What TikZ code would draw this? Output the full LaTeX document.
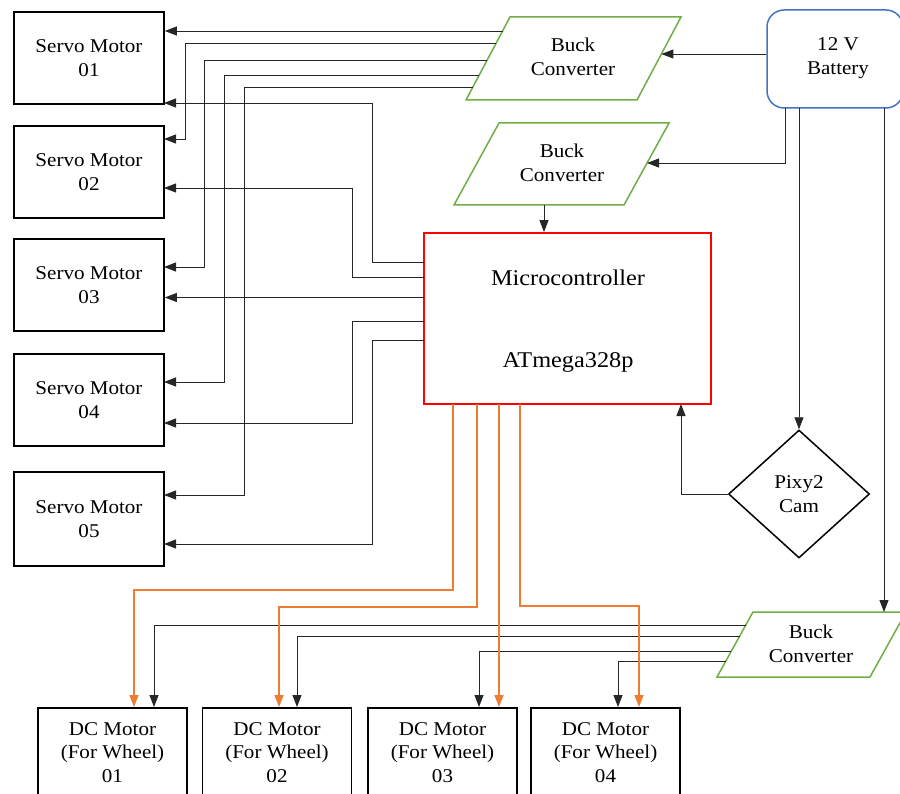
\documentclass[tikz,border=0pt]{standalone}
\usepackage{fontspec}
\setmainfont{Liberation Serif}[FakeStretch=1.08]
\usetikzlibrary{arrows.meta,shapes.geometric}
\definecolor{bkgreen}{RGB}{112,173,71}
\definecolor{batblue}{RGB}{68,114,196}
\definecolor{wireorange}{RGB}{237,125,49}
\begin{document}
\begin{tikzpicture}[x=1pt,y=-1pt,
  lbl/.style={font=\fontsize{19.5}{23.5}\selectfont, align=center, inner sep=0pt},
  box/.style={draw, line width=1.6pt, minimum width=150pt, minimum height=92pt, inner sep=0pt, lbl},
  dcbox/.style={draw, line width=1.6pt, minimum width=149pt, minimum height=120pt, inner sep=0pt, anchor=north},
  conn/.style={draw=black!85, line width=0.9pt, -{Triangle[length=12pt,width=9pt]}},
  owire/.style={draw=wireorange, line width=1.4pt, -{Triangle[length=12pt,width=9pt]}},
  bk/.style={draw=bkgreen, line width=1.5pt, line join=miter}]
\useasboundingbox (0,0) rectangle (900,794);
\clip (0,0) rectangle (900,794);

% servo motors
\node[box] (s1) at (89,58) {Servo Motor\\01};
\node[box] (s2) at (89,172) {Servo Motor\\02};
\node[box] (s3) at (89,285) {Servo Motor\\03};
\node[box] (s4) at (89,400) {Servo Motor\\04};
\node[box, minimum height=94pt] (s5) at (89,519) {Servo Motor\\05};

% microcontroller
\node[draw=red, line width=1.8pt, minimum width=287pt, minimum height=171pt, inner sep=0pt] (mc) at (567.5,318.5) {};
\node[font=\fontsize{22.5}{26}\selectfont, inner sep=0pt] (mct) at (568,278) {Microcontroller};
\node[font=\fontsize{22.5}{26}\selectfont, inner sep=0pt] (mcp) at (568,362) {ATmega328p};

% battery
\node[draw=batblue, line width=1.5pt, rounded corners=17pt, minimum width=136pt, minimum height=98pt, inner sep=0pt] (bat) at (835,59) {};
\node[lbl] (batt) at (838,58) {12 V\\Battery};

% buck converters
\coordinate (b1bl) at (466,100); \coordinate (b1tl) at (510,17);
\coordinate (b1tr) at (681,17);  \coordinate (b1br) at (637,100);
\draw[bk] (b1bl) -- (b1tl) -- (b1tr) -- (b1br) -- cycle;
\node[lbl] (b1) at (573,57) {Buck\\Converter};

\coordinate (b2bl) at (454,205); \coordinate (b2tl) at (499,123);
\coordinate (b2tr) at (669,123); \coordinate (b2br) at (624,205);
\draw[bk] (b2bl) -- (b2tl) -- (b2tr) -- (b2br) -- cycle;
\node[lbl] (b2) at (562,163) {Buck\\Converter};

\coordinate (b3bl) at (717,677); \coordinate (b3tl) at (753,612);
\coordinate (b3tr) at (906,612); \coordinate (b3br) at (870,677);
\draw[bk] (b3bl) -- (b3tl) -- (b3tr) -- (b3br) -- cycle;
\node[lbl] (b3) at (811,644) {Buck\\Converter};

% pixy cam
\node[diamond, draw, line width=1.5pt, minimum width=141pt, minimum height=128pt, inner sep=0pt, lbl] (pixy) at (799,494) {Pixy2\\Cam};

% DC motors
\node[dcbox] (dc1) at (112.5,707) {};
\node[dcbox] (dc2) at (277,707) {};
\node[dcbox] (dc3) at (442.5,707) {};
\node[dcbox] (dc4) at (605.5,707) {};
\node[lbl, anchor=north] (dc1t) at (112.5,722) {DC Motor\\(For Wheel)\\01};
\node[lbl, anchor=north] (dc2t) at (277,722) {DC Motor\\(For Wheel)\\02};
\node[lbl, anchor=north] (dc3t) at (442.5,722) {DC Motor\\(For Wheel)\\03};
\node[lbl, anchor=north] (dc4t) at (605.5,722) {DC Motor\\(For Wheel)\\04};

% edge points
\coordinate (b1e1) at (502.6,31);
\coordinate (b1e2) at (496.2,43);
\coordinate (b1e3) at (487.2,60);
\coordinate (b1e4) at (479.3,75);
\coordinate (b1e5) at (472.9,87);
\coordinate (b1r) at (661.4,54);
\coordinate (b2r) at (647,163);
\coordinate (b2b) at (544,205);
\coordinate (b3t) at (884,612);
\coordinate (b3e1) at (745.8,625);
\coordinate (b3e2) at (739.7,636);
\coordinate (b3e3) at (731.4,651);
\coordinate (b3e4) at (725.9,661);
\coordinate (bat1) at (785,108);
\coordinate (bat2) at (799,108);
\coordinate (bat3) at (884,108);

% battery connections
\draw[conn] (bat.west |- b1r) -- (b1r);
\draw[conn] (bat1) -- (785,163) -- (b2r);
\draw[conn] (bat2) -- (pixy.north);
\draw[conn] (bat3) -- (b3t);
\draw[conn] (b2b) -- (mc.north -| b2b);
\draw[conn] (pixy.west) -- (681,494) -- (681,404);

% buck1 -> servos
\draw[conn] (b1e1) -- (s1.east |- b1e1);
\draw[conn] (b1e2) -- (185,43) -- (185,139) -- (164,139);
\draw[conn] (b1e3) -- (204,60) -- (204,267) -- (164,267);
\draw[conn] (b1e4) -- (224,75) -- (224,382) -- (164,382);
\draw[conn] (b1e5) -- (244,87) -- (244,495) -- (164,495);

% mc -> servos
\draw[conn] (424,262) -- (372,262) -- (372,103) -- (164,103);
\draw[conn] (424,277) -- (352,277) -- (352,188) -- (164,188);
\draw[conn] (424,297.5) -- (s3.east |- 0,297.5);
\draw[conn] (424,321) -- (352,321) -- (352,423) -- (164,423);
\draw[conn] (424,340) -- (372,340) -- (372,544) -- (164,544);

% buck3 -> dc motors
\draw[conn] (b3e1) -- (154,625) -- (154,707);
\draw[conn] (b3e2) -- (297,636) -- (297,707);
\draw[conn] (b3e3) -- (479,651) -- (479,707);
\draw[conn] (b3e4) -- (618,661) -- (618,707);

% mc -> dc motors (orange)
\draw[owire] (453,404) -- (453,590) -- (134,590) -- (134,707);
\draw[owire] (477,404) -- (477,607) -- (279,607) -- (279,707);
\draw[owire] (499,404) -- (499,707);
\draw[owire] (520,404) -- (520,606) -- (639,606) -- (639,707);
\end{tikzpicture}
\end{document}
